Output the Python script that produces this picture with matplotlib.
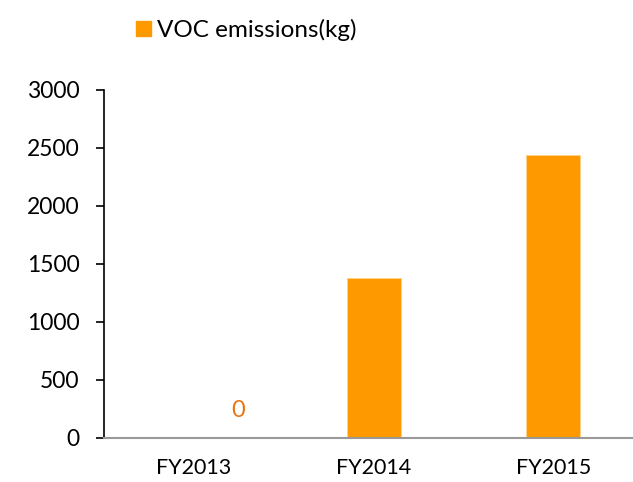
import matplotlib
matplotlib.use("Agg")
import matplotlib.pyplot as plt
from matplotlib.lines import Line2D

categories = ["FY2013", "FY2014", "FY2015"]
voc_kg = [0, 1380, 2440]
y_ticks = [0, 500, 1000, 1500, 2000, 2500, 3000]
series_name = "VOC emissions(kg)"

ORANGE = "#FF9900"

plt.rcParams["font.family"] = ["Lato", "DejaVu Sans"]

fig = plt.figure(figsize=(6.33, 4.82), dpi=100)
ax = fig.add_axes([0.1643, 0.0923, 0.852, 0.721])

x = list(range(len(categories)))
ax.bar(x, voc_kg, width=0.3, color=ORANGE, edgecolor="#FFD28A", linewidth=0.6,
       zorder=2)

# etiqueta del valor cero (como en el original)
for xi, v in zip(x, voc_kg):
    if v == 0:
        ax.annotate(str(v), xy=(xi, v), xytext=(44, 27),
                    textcoords="offset pixels", ha="center", va="center",
                    fontsize=17, color="#E87511")

ax.set_xlim(-0.5, 2.5)
ax.set_ylim(0, 3000)
ax.set_yticks(y_ticks)
ax.set_yticklabels([str(t) for t in y_ticks], fontsize=16.5)
ax.set_xticks(x)
ax.set_xticklabels(categories, fontsize=15.5)
ax.tick_params(axis="y", length=6, width=1.2, pad=11.5, color="black")
ax.tick_params(axis="x", length=0, pad=15)

for s in ["top", "right"]:
    ax.spines[s].set_visible(False)
ax.spines["left"].set_color("black")
ax.spines["left"].set_linewidth(1.2)
ax.spines["bottom"].set_color("#999999")
ax.spines["bottom"].set_linewidth(1.5)

handle = Line2D([], [], marker="s", linestyle="none", markersize=10.8,
                markerfacecolor=ORANGE, markeredgecolor=ORANGE)
fig.legend([handle], [series_name], loc="center left",
           bbox_to_anchor=(0.206, 0.938), frameon=False, fontsize=17.5,
           handletextpad=0.1, handlelength=1.0, borderpad=0, borderaxespad=0)

fig.savefig("out.png", dpi=100)
